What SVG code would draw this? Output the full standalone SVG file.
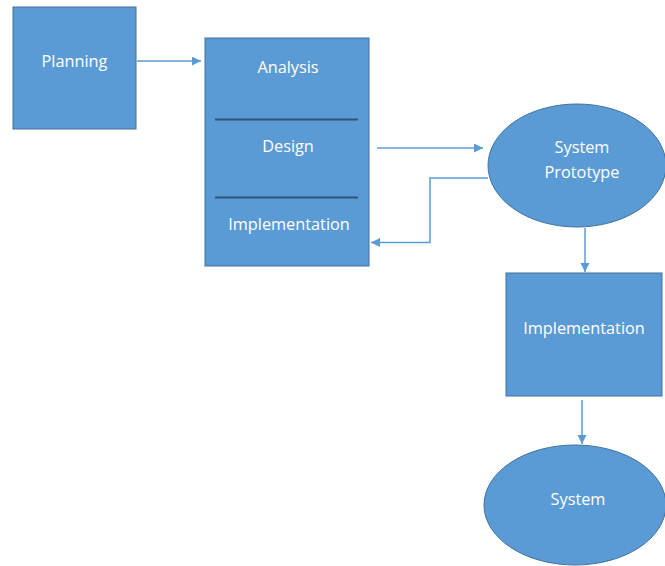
<svg xmlns="http://www.w3.org/2000/svg" width="665" height="566" viewBox="0 0 665 566">
<style>
.shape{fill:#5B9BD5;stroke:#41719C;stroke-width:1}
.lbl{font-family:"Open Sans","Liberation Sans",sans-serif;font-size:16.3px;fill:#FFFFFF;text-anchor:middle}
.conn{fill:none;stroke:#5B9BD5;stroke-width:1.5}
.div{stroke:#2F5575;stroke-width:2}
</style>
<defs>
<marker id="ah" markerWidth="10" markerHeight="10" refX="9" refY="4.5" orient="auto" markerUnits="userSpaceOnUse">
<path d="M0,0 L9,4.5 L0,9 Z" fill="#5B9BD5"/>
</marker>
</defs>
<rect width="665" height="566" fill="#FFFFFF"/>
<g id="planning">
<rect class="shape" x="13" y="7" width="123" height="122"/>
<text class="lbl" x="74.5" y="67">Planning</text>
</g>
<g id="phases">
<rect class="shape" x="205" y="38" width="164" height="228"/>
<line class="div" x1="215" y1="119.5" x2="358" y2="119.5"/>
<line class="div" x1="215" y1="197.5" x2="358" y2="197.5"/>
<text class="lbl" x="288" y="73">Analysis</text>
<text class="lbl" x="288" y="152">Design</text>
<text class="lbl" x="289" y="230">Implementation</text>
</g>
<g id="prototype">
<ellipse class="shape" cx="577" cy="165.5" rx="89" ry="61.5"/>
<text class="lbl" x="582" y="153">System</text>
<text class="lbl" x="582" y="178">Prototype</text>
</g>
<g id="implementation">
<rect class="shape" x="506" y="273" width="156" height="123"/>
<text class="lbl" x="584" y="334">Implementation</text>
</g>
<g id="system">
<ellipse class="shape" cx="575" cy="505" rx="91" ry="60"/>
<text class="lbl" x="578" y="505">System</text>
</g>
<g id="connectors">
<path class="conn" d="M137,61 H201" marker-end="url(#ah)"/>
<path class="conn" d="M377,148 H483" marker-end="url(#ah)"/>
<path class="conn" d="M488,178 H430 V242.5 H371" marker-end="url(#ah)"/>
<path class="conn" d="M585,228 V272" marker-end="url(#ah)"/>
<path class="conn" d="M582,400 V444" marker-end="url(#ah)"/>
</g>
</svg>
